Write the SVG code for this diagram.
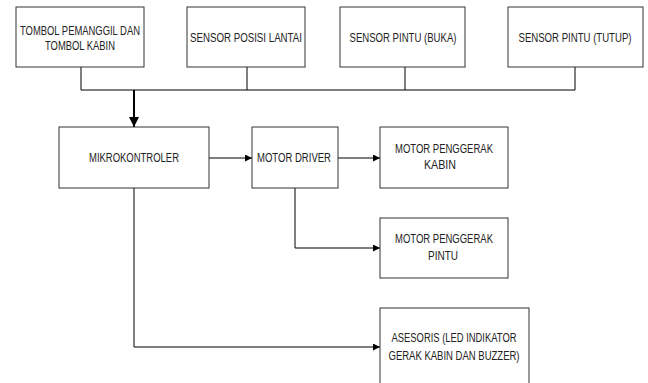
<svg xmlns="http://www.w3.org/2000/svg" width="648" height="383" viewBox="0 0 648 383">
<defs>
<style>
.box{fill:#fff;stroke:#333;stroke-width:1}
.t{font-family:"Liberation Sans",Arial,sans-serif;font-size:12.5px;fill:#222;text-anchor:middle}
.c{fill:none;stroke:#000;stroke-width:1}
.ct{fill:none;stroke:#000;stroke-width:2}
</style>
<marker id="ah" viewBox="0 0 10 10" refX="10" refY="5" markerWidth="7" markerHeight="7" markerUnits="userSpaceOnUse" orient="auto">
<path d="M0,0 L10,5 L0,10 z" fill="#000"/>
</marker>
<marker id="ahb" viewBox="0 0 10 10" refX="10" refY="5" markerWidth="5" markerHeight="5" orient="auto">
<path d="M0,0 L10,5 L0,10 z" fill="#000"/>
</marker>
</defs>
<rect width="648" height="383" fill="#fff"/>
<g id="connectors">
<path class="c" d="M81,67 V90 M247,67 V90 M405,67 V90 M575,67 V90 M81,90 H575"/>
<path class="ct" d="M134,90 V127" marker-end="url(#ahb)"/>
<path class="c" d="M209,158 H252" marker-end="url(#ah)"/>
<path class="c" d="M338,158 H380" marker-end="url(#ah)"/>
<path class="c" d="M295,188 V248 H380" marker-end="url(#ah)"/>
<path class="c" d="M134,188 V347 H380" marker-end="url(#ah)"/>
</g>
<g id="tombol">
<rect class="box" x="16" y="7" width="128" height="60"/>
<text class="t" x="80" y="35" textLength="120" lengthAdjust="spacingAndGlyphs">TOMBOL PEMANGGIL DAN</text>
<text class="t" x="80" y="50" textLength="70" lengthAdjust="spacingAndGlyphs">TOMBOL KABIN</text>
</g>
<g id="sensor-posisi">
<rect class="box" x="187" y="7" width="118" height="60"/>
<text class="t" x="246" y="42" textLength="112" lengthAdjust="spacingAndGlyphs">SENSOR POSISI LANTAI</text>
</g>
<g id="sensor-buka">
<rect class="box" x="340" y="7" width="125" height="60"/>
<text class="t" x="403" y="42" textLength="107" lengthAdjust="spacingAndGlyphs">SENSOR PINTU (BUKA)</text>
</g>
<g id="sensor-tutup">
<rect class="box" x="508" y="7" width="135" height="60"/>
<text class="t" x="575" y="42" textLength="113" lengthAdjust="spacingAndGlyphs">SENSOR PINTU (TUTUP)</text>
</g>
<g id="mikrokontroler">
<rect class="box" x="59" y="127" width="150" height="61"/>
<text class="t" x="134" y="162" textLength="90" lengthAdjust="spacingAndGlyphs">MIKROKONTROLER</text>
</g>
<g id="motor-driver">
<rect class="box" x="252" y="127" width="86" height="61"/>
<text class="t" x="294" y="162" textLength="74" lengthAdjust="spacingAndGlyphs">MOTOR DRIVER</text>
</g>
<g id="motor-kabin">
<rect class="box" x="380" y="127" width="128" height="61"/>
<text class="t" x="444" y="153" textLength="98" lengthAdjust="spacingAndGlyphs">MOTOR PENGGERAK</text>
<text class="t" x="440" y="169" textLength="32" lengthAdjust="spacingAndGlyphs">KABIN</text>
</g>
<g id="motor-pintu">
<rect class="box" x="380" y="218" width="128" height="60"/>
<text class="t" x="444" y="243" textLength="98" lengthAdjust="spacingAndGlyphs">MOTOR PENGGERAK</text>
<text class="t" x="443" y="260" textLength="30" lengthAdjust="spacingAndGlyphs">PINTU</text>
</g>
<g id="asesoris">
<rect class="box" x="380" y="308" width="149" height="90"/>
<text class="t" x="454" y="342" textLength="125" lengthAdjust="spacingAndGlyphs">ASESORIS (LED INDIKATOR</text>
<text class="t" x="454" y="360" textLength="131" lengthAdjust="spacingAndGlyphs">GERAK KABIN DAN BUZZER)</text>
</g>
</svg>
